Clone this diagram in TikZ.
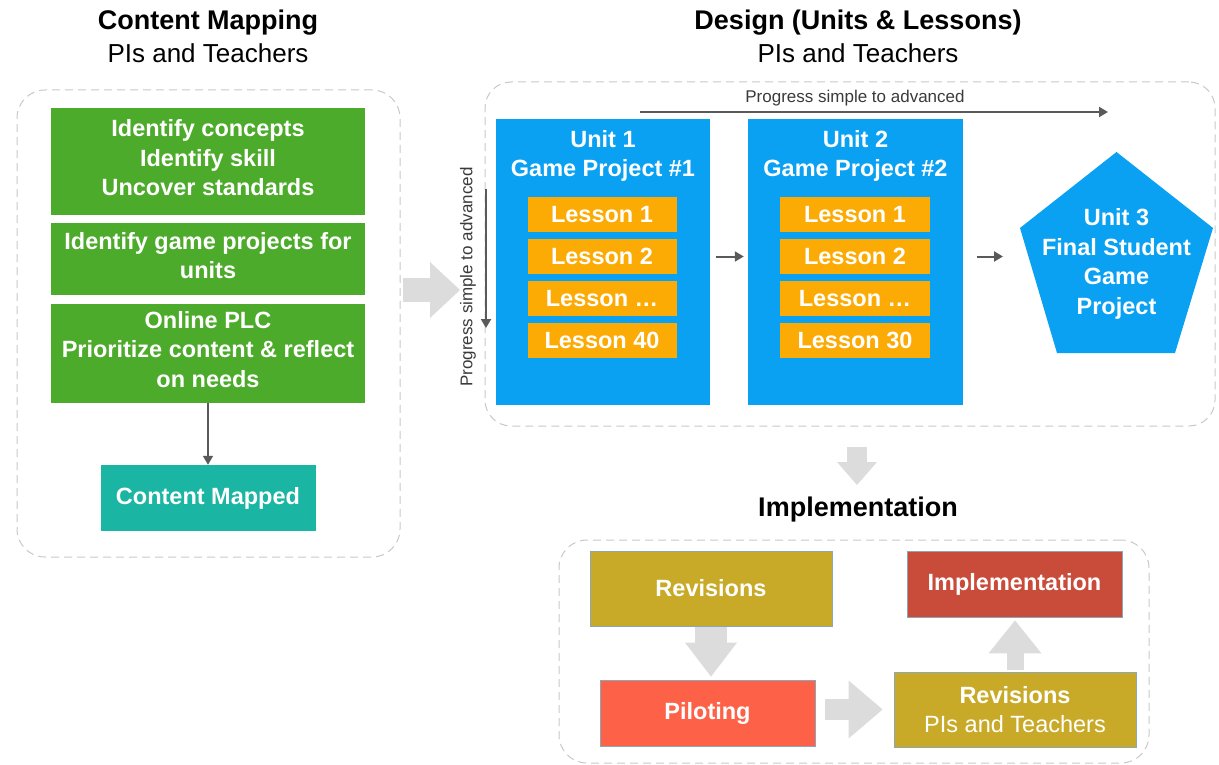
\documentclass[tikz,border=0pt]{standalone}
\usepackage{fontspec}
\setmainfont{Liberation Sans}
\usetikzlibrary{arrows.meta,positioning}

\definecolor{framegray}{HTML}{C8C8C8}
\definecolor{blockgray}{HTML}{DCDCDC}
\definecolor{arrowgray}{HTML}{5A5A5A}
\definecolor{notegray}{HTML}{3A3A3A}
\definecolor{mapgreen}{HTML}{4DAB2B}
\definecolor{mappedteal}{HTML}{1AB5A3}
\definecolor{unitblue}{HTML}{0AA1F2}
\definecolor{lessonorange}{HTML}{FCAA04}
\definecolor{revgold}{HTML}{C9AA28}
\definecolor{implred}{HTML}{C94C3B}
\definecolor{pilotred}{HTML}{FD6249}
\definecolor{edgeblue}{HTML}{8AA6B8}

\begin{document}
\begin{tikzpicture}
  [x=1pt, y=-1pt, node distance=8pt,
   every node/.style={inner sep=0pt, align=center},
   headtitle/.style={font=\fontsize{27}{32}\selectfont\bfseries},
   headsub/.style={font=\fontsize{26}{31}\selectfont},
   dashframe/.style={draw=framegray, line width=1pt, dash pattern=on 8pt off 5pt, rounded corners=28pt},
   box/.style={text=white, font=\fontsize{23.5}{29.5}\selectfont\bfseries},
   mapbox/.style={box, fill=mapgreen, minimum width=314pt, text depth=8pt},
   unitbox/.style={fill=unitblue, minimum width=214pt, minimum height=286pt},
   lesson/.style={box, fill=lessonorange, minimum width=149pt, minimum height=35pt},
   stepbox/.style={box, draw=edgeblue, line width=0.8pt},
   note/.style={text=notegray, font=\fontsize{17}{20}\selectfont},
   flowarrow/.style={draw=arrowgray, line width=2pt, -{Triangle[length=9pt, width=10pt]}},
   block/.style n args={3}{draw=blockgray, line width=#1, -{Triangle[length=#3, width=#2, line width=0pt]}}]
  \useasboundingbox (0,0) rectangle (1219,765);

  % content mapping
  \node[headtitle] (maphead) at (208,23) {Content Mapping};
  \node[headsub] (mapsub) at (208,53) {PIs and Teachers};
  \node[dashframe, minimum width=383pt, minimum height=467pt] (mapframe) at (208.5,323.5) {};
  \node[mapbox, minimum height=107pt] (g1) at (208,161.5) {Identify concepts\\Identify skill\\Uncover standards};
  \node[mapbox, minimum height=72pt, below=of g1] (g2) {Identify game projects for\\units};
  \node[mapbox, minimum height=99pt, below=of g2] (g3) {Online PLC\\Prioritize content \& reflect\\on needs};
  \node[box, fill=mappedteal, minimum width=215pt, minimum height=66pt] (mapped) at (208,498) {Content Mapped};
  \draw[flowarrow, line width=1.5pt] (g3) -- (mapped);

  \coordinate (gA) at (403,290);
  \coordinate (gB) at (460,290);
  \draw[block={24pt}{56pt}{30pt}] (gA) -- (gB);

  % design
  \node[headtitle] (deshead) at (858,23) {Design (Units \& Lessons)};
  \node[headsub] (dessub) at (858,53) {PIs and Teachers};
  \node[dashframe, minimum width=730pt, minimum height=344pt, rounded corners=26pt] (desframe) at (850,254) {};
  \node[unitbox] (unit1) at (603,262) {};
  \node[unitbox, minimum width=215pt] (unit2) at (855.5,262) {};
  \node[box, anchor=north] (unit1head) at ([yshift=-11pt]unit1.north) {Unit 1\\Game Project \#1};
  \node[box, anchor=north] (unit2head) at ([yshift=-11pt]unit2.north) {Unit 2\\Game Project \#2};
  \foreach \txt [count=\i] in {Lesson 1, Lesson 2, Lesson \ldots, Lesson 40}
    \node[lesson] (lesA\i) at (602,172.5+42*\i) {\txt};
  \foreach \txt [count=\i] in {Lesson 1, Lesson 2, Lesson \ldots, Lesson 30}
    \node[lesson, minimum width=150pt] (lesB\i) at (855,172.5+42*\i) {\txt};
  \coordinate (unit3) at (1116.5,264);
  \coordinate (unit3w) at ([shift={(-96.5,-36)}]unit3);
  \fill[unitblue] ([shift={(0,-112)}]unit3) -- ([shift={(96.5,-36)}]unit3) -- ([shift={(58.5,89)}]unit3)
    -- ([shift={(-59.5,89)}]unit3) -- (unit3w) -- cycle;
  \node[box] (unit3text) at (unit3) {Unit 3\\Final Student\\Game\\Project};
  \draw[flowarrow, shorten <=6pt, shorten >=4pt] (unit1.east |- lesA2) -- (unit2.west |- lesA2);
  \draw[flowarrow, shorten <=14pt, shorten >=17pt] (unit2.east |- lesB2) -- (unit3w |- lesB2);

  \coordinate (hstart) at (640,112);
  \coordinate (hend) at (1108,112);
  \draw[flowarrow, line width=2.5pt] (hstart) -- (hend);
  \node[note] (hnote) at (855,98) {Progress simple to advanced};
  \coordinate (vstart) at (486,189);
  \coordinate (vend) at (486,328);
  \draw[flowarrow] (vstart) -- (vend);
  \node[note, rotate=90] (vnote) at (468,277) {Progress simple to advanced};

  \coordinate (dA) at (857,447);
  \coordinate (dB) at (857,485);
  \draw[block={20pt}{40pt}{23pt}] (dA) -- (dB);

  % implementation
  \node[headtitle] (imphead) at (858,510) {Implementation};
  \node[dashframe, minimum width=590pt, minimum height=223pt] (impframe) at (854,651.5) {};
  \node[stepbox, fill=revgold, minimum width=242pt, minimum height=75pt] (rev1) at (711,588.5) {Revisions};
  \node[stepbox, fill=implred, minimum width=215pt, minimum height=66pt] (impl) at (1014.5,584) {Implementation};
  \node[stepbox, fill=pilotred, minimum width=215pt, minimum height=66pt] (pilot) at (707.5,713) {Piloting};
  \node[stepbox, fill=revgold, minimum width=242pt, minimum height=75pt] (rev2) at (1015,709.5) {Revisions\\{\mdseries PIs and Teachers}};
  \draw[block={32pt}{52pt}{34pt}, shorten <=1pt, shorten >=3pt] (rev1.south) -- (rev1.south |- pilot.north);
  \draw[block={21pt}{58pt}{34pt}, shorten <=10pt, shorten >=11pt] (pilot.east |- rev2) -- (rev2.west);
  \draw[block={17pt}{53pt}{33pt}, shorten <=2pt, shorten >=3pt] (rev2.north) -- (rev2.north |- impl.south);
\end{tikzpicture}
\end{document}
